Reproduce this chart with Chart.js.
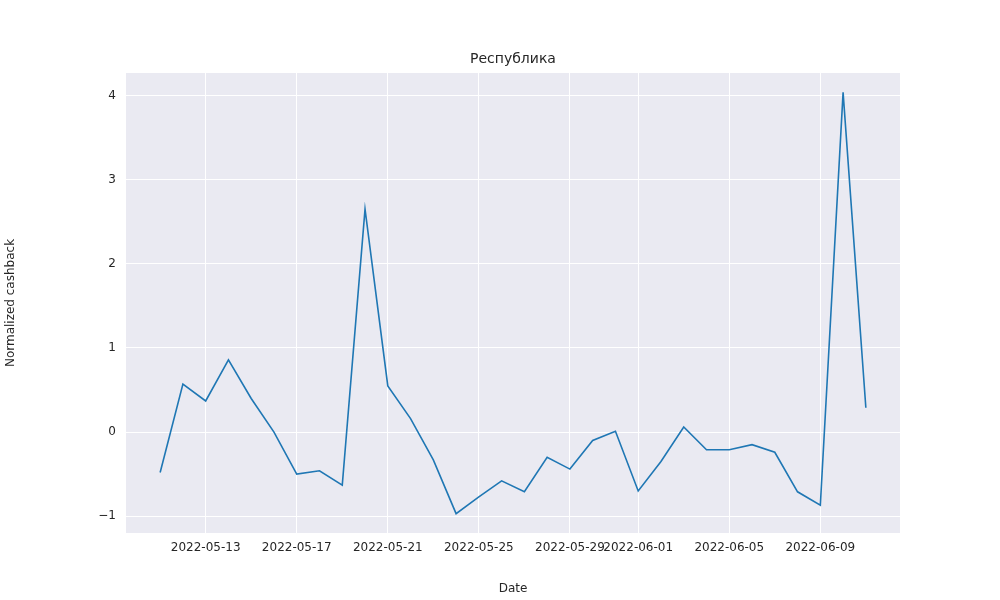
<!DOCTYPE html>
<html>
<head>
<meta charset="utf-8">
<script src="https://cdn.jsdelivr.net/npm/chart.js@4"></script>
<style>
  html, body { margin: 0; padding: 0; background: #fff; }
</style>
</head>
<body>
<canvas id="chart" width="1000" height="600"></canvas>
<script>
const dates = ['2022-05-11','2022-05-12','2022-05-13','2022-05-14','2022-05-15','2022-05-16','2022-05-17','2022-05-18',
  '2022-05-19','2022-05-20','2022-05-21','2022-05-22','2022-05-23','2022-05-24','2022-05-25','2022-05-26',
  '2022-05-27','2022-05-28','2022-05-29','2022-05-30','2022-05-31','2022-06-01','2022-06-02','2022-06-03',
  '2022-06-04','2022-06-05','2022-06-06','2022-06-07','2022-06-08','2022-06-09','2022-06-10','2022-06-11']
const cashback = [-0.48, 0.57, 0.37, 0.86, 0.40, 0.00, -0.50, -0.46, -0.63, 2.65, 0.55, 0.16, -0.33, -0.97, -0.77, -0.58,
  -0.71, -0.30, -0.44, -0.10, 0.01, -0.70, -0.35, 0.06, -0.21, -0.21, -0.15, -0.24, -0.71, -0.87, 4.04, 0.29]
const tickDates = ['2022-05-13','2022-05-17','2022-05-21','2022-05-25','2022-05-29','2022-06-01','2022-06-05','2022-06-09']
const yTicks = [-1, 0, 1, 2, 3, 4]
const title = 'Республика'

const font = { family: 'DejaVu Sans', size: 12 }

const bgPlugin = {
    id: 'bg',
    beforeDraw(chart) {
        const { ctx, chartArea: a } = chart
        ctx.save()
        ctx.fillStyle = '#eaeaf2'
        ctx.fillRect(a.left, a.top, a.right - a.left, a.bottom - a.top)
        ctx.fillStyle = '#262626'
        ctx.font = '14px "DejaVu Sans"'
        ctx.textAlign = 'center'
        ctx.textBaseline = 'middle'
        ctx.fillText(title, (a.left + a.right) / 2, 59)
        ctx.restore()
    }
}

new Chart(document.getElementById('chart'), {
    type: 'line',
    data: {
        datasets: [{
            data: cashback.map((v, i) => ({ x: i, y: v })),
            borderColor: '#1f77b4',
            borderWidth: 1.6,
            pointRadius: 0,
            tension: 0
        }]
    },
    options: {
        responsive: false,
        animation: false,
        devicePixelRatio: 1,
        layout: { padding: { top: 73, right: 100, left: 0, bottom: 0 } },
        plugins: { legend: { display: false }, tooltip: { enabled: false } },
        scales: {
            x: {
                type: 'linear',
                min: -1.5,
                max: 32.5,
                afterBuildTicks: axis => { axis.ticks = tickDates.map(d => ({ value: dates.indexOf(d) })) },
                afterFit: axis => { axis.height = 67 },
                ticks: { callback: v => dates[v], color: '#262626', font: font, padding: 8, maxRotation: 0, autoSkip: false },
                grid: { color: '#ffffff', lineWidth: 1, drawTicks: false },
                border: { display: false },
                title: { display: true, text: 'Date', color: '#262626', font: font, padding: { top: 2 } }
            },
            y: {
                min: -1.2,
                max: 4.27,
                afterBuildTicks: axis => { axis.ticks = yTicks.map(v => ({ value: v })) },
                afterFit: axis => { axis.width = 126 },
                ticks: { callback: v => String(v).replace('-', '\u2212'), color: '#262626', font: font, padding: 10 },
                grid: { color: '#ffffff', lineWidth: 1, drawTicks: false },
                border: { display: false },
                title: { display: true, text: 'Normalized cashback', color: '#262626', font: font }
            }
        }
    },
    plugins: [bgPlugin]
})
</script>
</body>
</html>
